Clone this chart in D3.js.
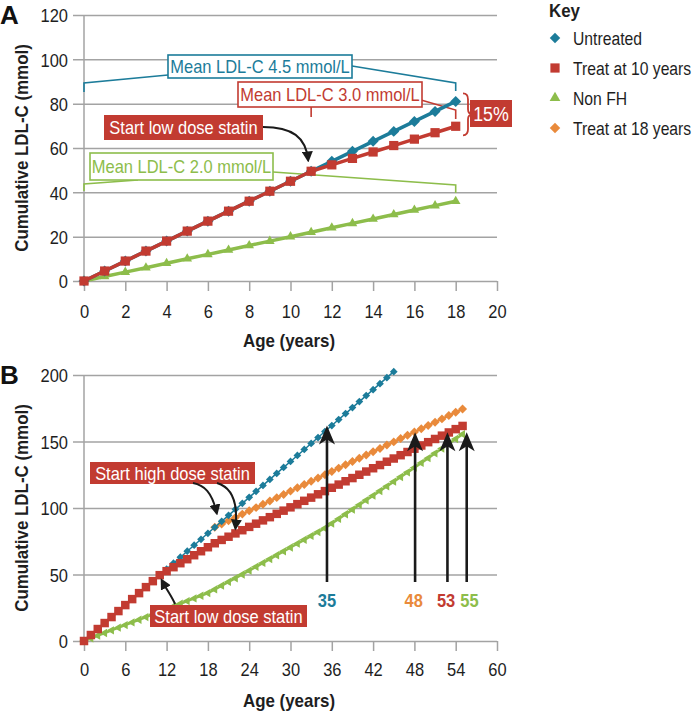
<!DOCTYPE html>
<html><head><meta charset="utf-8">
<script src="https://cdn.jsdelivr.net/npm/d3@7"></script>
<style>
body{margin:0;background:#fff;}
svg{display:block;font-family:"Liberation Sans",Arial,sans-serif;}
</style></head><body>
<svg id="c" width="697" height="712"></svg>
<script>
// ---------- DATA ----------
const agesA = d3.range(0, 19);
const untreatedA = [0,4.5,9,13.5,18,22.5,27,31.5,36,40.5,45,49.5,54,58.5,63,67.5,72,76.5,81];
const treat10A = [0,4.5,9,13.5,18,22.5,27,31.5,36,40.5,45,49.5,52.4,55.3,58.2,61.1,64,66.9,69.8];
const nonFHA = [0,2,4,6,8,10,12,14,16,18,20,22,24,26,28,30,32,34,36];

const agesB = d3.range(0, 56);
const agesUntreatedB = d3.range(0, 46);
const untreatedB = [0,4.5,9,13.5,18,22.5,27,31.5,36,40.5,45,49.5,54,58.5,63,67.5,72,76.5,81,85.5,90,94.5,99,103.5,108,112.5,117,121.5,126,130.5,135,139.5,144,148.5,153,157.5,162,166.5,171,175.5,180,184.5,189,193.5,198,202.5];
const treat10B = [0,4.5,9,13.5,18,22.5,27,31.5,36,40.5,45,49.5,52.5,55.5,58.5,61.5,64.5,67.5,70.5,73.5,76,78.4,80.9,83.3,85.8,88.2,90.7,93.1,95.6,98,100.5,102.9,105.4,107.8,110.3,112.7,115.2,117.6,120.1,122.5,125,127.4,129.9,132.3,134.8,137.2,139.7,142.1,144.6,147,149.5,151.9,154.4,156.8,159.3,161.7];
const agesTreat18B = d3.range(19, 56);
const treat18B = [85.5,88,90.4,92.9,95.4,97.9,100.3,102.8,105.3,107.8,110.2,112.7,115.2,117.6,120.1,122.6,125,127.5,130,132.5,134.9,137.4,139.9,142.3,144.8,147.3,149.7,152.2,154.7,157.1,159.6,162.1,164.5,167,169.5,172,174.4];
const nonFHB = [0,2,4,6,8,10,12,14,16,18,20,22,24,26,28,30,32,34,36,38.8,41.6,44.4,47.2,50,52.9,55.8,58.7,61.6,64.5,67.4,70.3,73.2,76.1,79,81.9,84.8,88.3,91.8,95.3,98.8,102.3,105.8,109.3,112.8,116.3,119.8,123.3,126.8,130.3,133.9,137.5,141.1,144.7,148.3,151.9,155.5];

const xTicksA = [0,2,4,6,8,10,12,14,16,18,20];
const yTicksA = [0,20,40,60,80,100,120];
const xTicksB = [0,6,12,18,24,30,36,42,48,54,60];
const yTicksB = [0,50,100,150,200];

const legendLabels = ["Untreated","Treat at 10 years","Non FH","Treat at 18 years"];
const meanLabels = ["Mean LDL-C 4.5 mmol/L","Mean LDL-C 3.0 mmol/L","Mean LDL-C 2.0 mmol/L"];
const reductionLabel = "15%";
const thresholdLabels = ["35","48","53","55"];
const thresholdAges = [35.3,48.1,52.8,55.6];
const thresholdTips = [162,157,157,157];

// ---------- STYLE ----------
const C = {teal:"#1c7c9a", red:"#c23b31", green:"#8dbd4b", orange:"#e98a3b", grid:"#a3a3a3", text:"#1e1e1e"};
const seriesColors = [C.teal, C.red, C.green, C.orange];
const FONT = "Liberation Sans, Arial, sans-serif";
const svg = d3.select("#c");

const defs = svg.append("defs");
defs.append("marker").attr("id","ah").attr("viewBox","0 0 10 10").attr("refX",8).attr("refY",5)
  .attr("markerWidth",11).attr("markerHeight",11).attr("markerUnits","userSpaceOnUse").attr("orient","auto")
  .append("path").attr("d","M0,0 L10,5 L0,10 Z").attr("fill","#1a1a1a");

function panel(cfg){
  const {x,y,xTicks,yTicks,tickLabelTop,titleY,letter,letterY} = cfg;
  const g = svg.append("g");
  const ya = g.append("g").attr("transform","translate(73,0)")
    .call(d3.axisLeft(y).tickValues(yTicks).tickSize(-(497-73)).tickPadding(5));
  ya.attr("font-family",FONT);
  ya.select(".domain").remove();
  ya.selectAll("line").attr("stroke",C.grid).attr("stroke-width",1.5);
  ya.selectAll("text").attr("font-size",18.5).attr("fill",C.text).attr("dy","0.36em");
  const xa = g.append("g").attr("transform",`translate(0,${y(0)})`)
    .call(d3.axisBottom(x).tickValues(xTicks).tickSize(10).tickPadding(tickLabelTop-10));
  xa.attr("font-family",FONT);
  xa.select(".domain").remove();
  xa.selectAll("line").attr("stroke",C.grid).attr("stroke-width",1.5);
  xa.selectAll("text").attr("font-size",18.5).attr("fill",C.text);
  g.append("line").attr("x1",x(0)).attr("x2",x(0)).attr("y1",y(yTicks[yTicks.length-1])).attr("y2",y(0))
    .attr("stroke",C.grid).attr("stroke-width",1.5);
  g.append("text").attr("x",289).attr("y",titleY).attr("text-anchor","middle").attr("font-weight","bold")
    .attr("font-size",19).attr("fill",C.text).text("Age (years)");
  const yMid = (y(0)+y(yTicks[yTicks.length-1]))/2;
  g.append("text").attr("transform",`translate(28,${yMid}) rotate(-90)`).attr("text-anchor","middle")
    .attr("font-weight","bold").attr("font-size",19).attr("fill",C.text).text("Cumulative LDL-C (mmol)");
  g.append("text").attr("class","nocond").attr("x",0).attr("y",letterY).attr("font-weight","bold").attr("font-size",26)
    .attr("fill","#111").text(letter);
  return g;
}

function series(g, x, y, ages, vals, color, shape, size, lw, rot){
  const pts = ages.map((a,i)=>[a,vals[i]]);
  g.append("path").datum(pts).attr("fill","none").attr("stroke",color).attr("stroke-width",lw)
    .attr("stroke-linejoin","round")
    .attr("d", d3.line().x(d=>x(d[0])).y(d=>y(d[1])));
  g.append("g").selectAll("path").data(pts).join("path")
    .attr("transform", d=>`translate(${x(d[0])},${y(d[1])}) rotate(${rot})`)
    .attr("d", d3.symbol(shape, size)())
    .attr("fill", color);
}

function boxText(g, x0, y0, w, h, label, stroke, fill, textColor, fs){
  g.append("rect").attr("x",x0).attr("y",y0).attr("width",w).attr("height",h)
    .attr("fill",fill).attr("stroke",stroke).attr("stroke-width",stroke==="none"?0:1.6);
  g.append("text").attr("x",x0+w/2).attr("y",y0+h/2).attr("dy","0.36em").attr("text-anchor","middle")
    .attr("font-size",fs).attr("fill",textColor).text(label);
}

// ---------- PANEL A ----------
const xA = d3.scaleLinear([0,20],[84,497]);
const yA = d3.scaleLinear([0,120],[281,15]);
const gA = panel({x:xA,y:yA,xTicks:xTicksA,yTicks:yTicksA,tickLabelTop:24,titleY:347,letter:"A",letterY:24});

const ann = gA.append("g").attr("fill","none").attr("stroke-width",1.6);
ann.append("path").attr("stroke",C.teal)
  .attr("d",`M${xA(0)},92 L${xA(0)},83 L168,75 M352,66 L${xA(18)},83 L${xA(18)},91`);
ann.append("path").attr("stroke",C.red)
  .attr("d",`M${xA(11)},107 L${xA(11)},117 M421,100 L${xA(18)},110 L${xA(18)},119`);
ann.append("path").attr("stroke",C.green)
  .attr("d",`M${xA(0)},191 L${xA(0)},184 L138,180 M273,172 L${xA(18)},185 L${xA(18)},193`);

series(gA, xA, yA, agesA, nonFHA, C.green, d3.symbolTriangle, 40, 3.5, 0);
series(gA, xA, yA, agesA, untreatedA, C.teal, d3.symbolSquare, 60, 3.5, 45);
series(gA, xA, yA, agesA, treat10A, C.red, d3.symbolSquare, 85, 3.5, 0);

boxText(gA, 168, 55, 184, 23, meanLabels[0], C.teal, "#fff", C.teal, 18.5);
boxText(gA, 238, 82, 184, 25, meanLabels[1], C.red, "#fff", C.red, 18.5);
boxText(gA, 90, 153, 183, 27, meanLabels[2], C.green, "#fff", C.green, 18.5);
boxText(gA, 104, 115, 159, 25, "Start low dose statin", "none", C.red, "#fff", 18.5);

gA.append("path").attr("fill","none").attr("stroke","#1a1a1a").attr("stroke-width",2)
  .attr("marker-end","url(#ah)")
  .attr("d",`M263,127 C292,127 306,137 ${xA(11)-3},${yA(49.5)-11}`);

const bt = yA(untreatedA[18]) - 8, bb = yA(treat10A[18]) + 9, bm = (bt+bb)/2;
gA.append("path").attr("fill","none").attr("stroke",C.red).attr("stroke-width",1.8)
  .attr("d",`M463,${bt} Q468,${bt} 468,${bt+6} L468,${bm-5} Q468,${bm} 473,${bm} Q468,${bm} 468,${bm+5} L468,${bb-6} Q468,${bb} 463,${bb}`);
boxText(gA, 470, 100, 42, 27, reductionLabel, "none", C.red, "#fff", 20);

// legend
const lg = svg.append("g");
lg.append("text").attr("x",549).attr("y",17).attr("font-weight","bold").attr("font-size",19).attr("fill",C.text).text("Key");
const legShapes = [[d3.symbolSquare,55,45],[d3.symbolSquare,85,0],[d3.symbolTriangle,50,0],[d3.symbolSquare,55,45]];
legendLabels.forEach((lab,i)=>{
  const cy = 38 + i*30;
  lg.append("path").attr("transform",`translate(555,${cy}) rotate(${legShapes[i][2]})`)
    .attr("d",d3.symbol(legShapes[i][0],legShapes[i][1])()).attr("fill",seriesColors[i]);
  lg.append("text").attr("class","nocond").attr("transform",`translate(573,${cy}) scale(0.85,1)`)
    .attr("dy","0.36em").attr("font-size",18.5).attr("fill",C.text).text(lab);
});

// ---------- PANEL B ----------
const xB = d3.scaleLinear([0,60],[84,497]);
const yB = d3.scaleLinear([0,200],[641,375]);
const gB = panel({x:xB,y:yB,xTicks:xTicksB,yTicks:yTicksB,tickLabelTop:22,titleY:707,letter:"B",letterY:384});

series(gB, xB, yB, agesB, nonFHB, C.green, d3.symbolTriangle, 30, 2.5, -90);
series(gB, xB, yB, agesTreat18B, treat18B, C.orange, d3.symbolSquare, 40, 2.5, 45);
series(gB, xB, yB, agesUntreatedB, untreatedB, C.teal, d3.symbolSquare, 30, 1.5, 45);
series(gB, xB, yB, agesB, treat10B, C.red, d3.symbolSquare, 72, 2.5, 0);

boxText(gB, 90, 462, 165, 22, "Start high dose statin", "none", C.red, "#fff", 18.5);
boxText(gB, 150, 605, 157, 22, "Start low dose statin", "none", C.red, "#fff", 18.5);
const arr = gB.append("g").attr("fill","none").attr("stroke","#1a1a1a").attr("stroke-width",2).attr("marker-end","url(#ah)");
arr.append("path").attr("d",`M193,483 C204,485 212,492 ${xB(19)+2},${yB(85.5)-14}`);
arr.append("path").attr("d",`M217,483 C234,488 238,505 ${xB(22)},${yB(80.9)-5}`);
arr.append("path").attr("d",`M175,604 C172,597 168,592 ${xB(11)+2},${yB(49.5)+5}`);

thresholdAges.forEach((a,i)=>{
  const xx = xB(a), tip = yB(thresholdTips[i]), base = 582;
  gB.append("line").attr("x1",xx).attr("x2",xx).attr("y1",base).attr("y2",tip+12)
    .attr("stroke","#1a1a1a").attr("stroke-width",2.6);
  gB.append("path").attr("d",`M${xx},${tip} L${xx+8},${tip+19} L${xx},${tip+14} L${xx-8},${tip+19} Z`).attr("fill","#1a1a1a");
});
const thrColors = [C.teal, C.orange, C.red, C.green];
const thrLabelX = [35.3, 47.9, 52.6, 56.0];
thresholdLabels.forEach((lab,i)=>{
  gB.append("text").attr("x",xB(thrLabelX[i])).attr("y",600).attr("dy","0.36em").attr("text-anchor","middle")
    .attr("font-weight","bold").attr("font-size",18.5).attr("fill",thrColors[i]).text(lab);
});

// condensed look: narrow every text horizontally
svg.selectAll("text").each(function(){
  if (this.classList.contains("nocond")) return;
  const w = this.getComputedTextLength();
  this.setAttribute("textLength", (w*0.89).toFixed(1));
  this.setAttribute("lengthAdjust","spacingAndGlyphs");
});
</script>
</body></html>
